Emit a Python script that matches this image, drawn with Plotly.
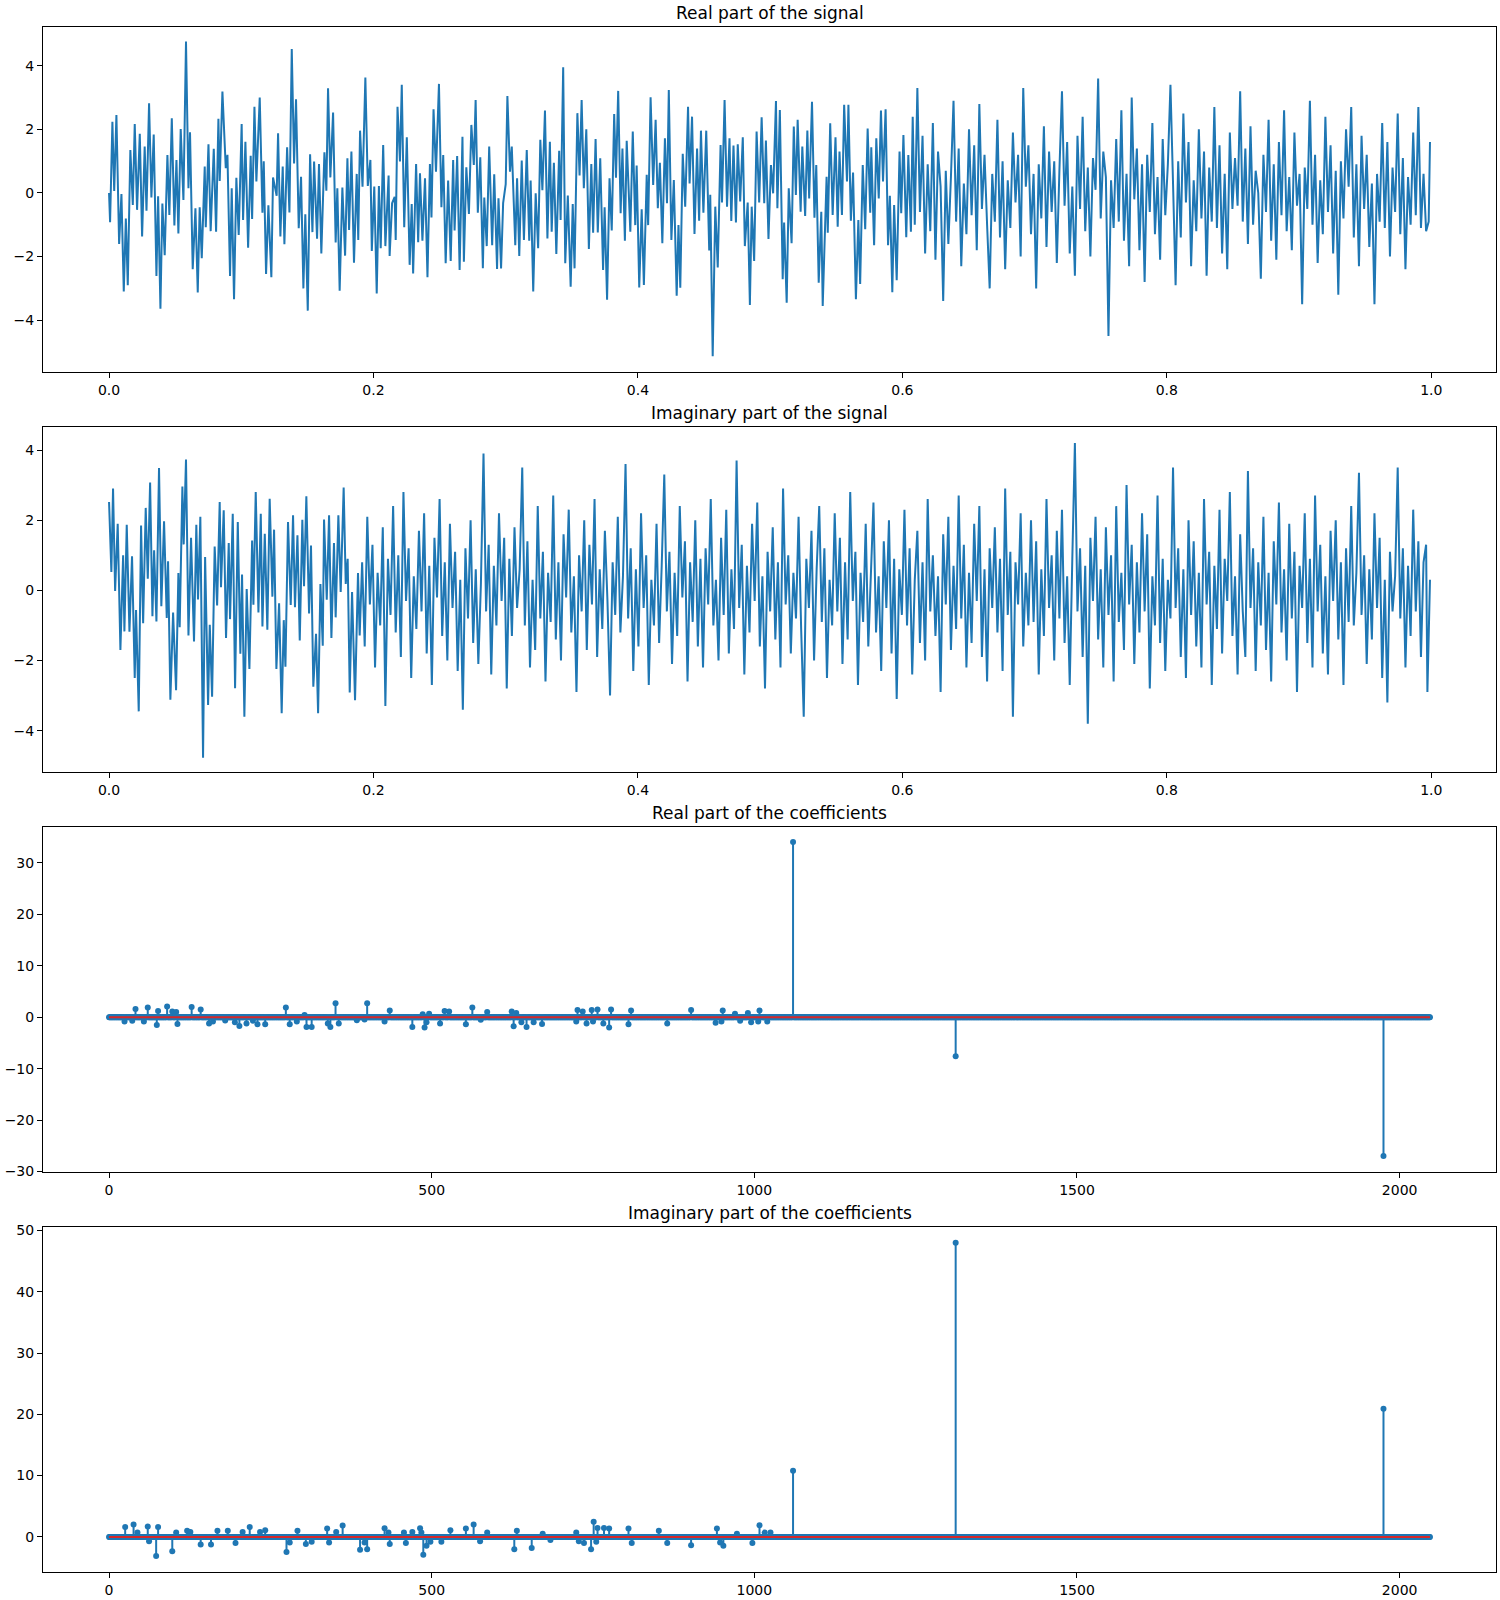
import numpy as np
import plotly.graph_objects as go

# ---------------- data ----------------
N_SIG = 1024
N_COEF = 2048

# Real part of the signal: (sample index, value) pairs of the visible turning points
re_sig_read = [
(0,0.0),(0.8,-0.92),(2.6,2.24),(4,0.06),(5.7,2.45),(7.8,-1.6),(9.6,-0.03),(11.4,-3.1),(13,-0.8),(14.5,-2.9),
(16.5,1.35),(18.4,-0.38),(19.9,2.17),(21.7,-0.53),(23.8,1.86),(25.6,-1.37),(27.6,1.46),(29,-0.56),(31,2.82),(32.8,-0.14),
(34.6,1.84),(36.7,-2.61),(38,-0.1),(39.8,-3.64),(41.3,-0.33),(43.1,-1.96),(45.2,1.19),(46.7,-0.69),(48.6,2.35),(50.6,-1.02),
(52.2,1.04),(53.7,-1.27),(55.5,2.01),(57.6,-0.22),(59.6,4.76),(61.5,0.15),(62.7,1.91),(64.8,-2.4),(66.9,-0.48),(68.7,-3.13),
(70.2,-0.45),(71.8,-2.05),(74.1,0.83),(74.9,-1.08),(77,1.53),(78.7,-1.2),(81.1,1.39),(82.9,-1.22),(84.7,2.33),(85.7,0.38),
(87.8,3.19),(90.4,0.78),(91.7,1.2),(93.7,-2.61),(95,0.15),(96.8,-3.34),(98.6,0.48),(100.4,-1.32),(102.7,2.17),(103.8,-0.85),
(105.6,1.61),(107.7,-1.72),(109.7,1.17),(110.8,-0.82),(112.6,2.71),(114.1,0.36),(116.7,3.0),(118.8,-0.62),(119.8,1.0),(121.6,-2.55),
(123.4,-0.39),(125.7,-2.65),(127,0.49),(129.8,-0.09),(130.9,1.88),(132.7,-1.37),(134.5,0.83),(135.8,-1.61),(137.9,1.44),(139.7,-0.61),
(141.5,4.53),(143.3,0.93),(144.8,2.95),(146.9,-1.11),(148.7,0.51),(150.5,-3.0),(152,-0.67),(153.9,-3.7),(155.7,1.22),(157.5,-1.23),
(158.8,0.99),(161.1,-1.44),(162.6,0.91),(164.4,-1.9),(166.8,1.28),(168.3,0.07),(169.6,3.29),(171.4,0.49),(173.5,2.53),(175.5,-1.56),
(176.8,0.15),(178.6,-3.07),(180.7,0.17),(182.8,-1.97),(184.6,1.09),(185.9,-1.16),(187.7,1.3),(189.7,-2.19),(191.8,0.6),(193,-1.48),
(194.4,1.96),(196.3,0.2),(198.5,3.63),(200.4,0.22),(202.4,1.04),(203.5,-1.82),(205.4,0.2),(207.3,-3.16),(209,0.22),(210.4,-1.74),
(212.3,1.51),(214,-1.67),(216.5,0.55),(217.3,-1.98),(219.2,-0.32),(221.2,-0.12),(222,-1.48),(223.4,2.71),(225.3,0.99),(226.7,3.4),
(228.6,-1.08),(230.6,1.75),(232.8,-2.26),(234.4,-0.35),(235.5,-2.53),(237.8,0.91),(239.4,-1.55),(240.8,0.62),(242.7,-1.5),(244.7,0.46),
(246.6,-2.65),(248.5,0.91),(249.7,-0.77),(251.3,2.63),(253.2,0.67),(255.5,3.43),(257.4,-0.45),(258.8,1.19),(260.7,-2.21),(262.6,0.39),
(264.6,-2.14),(266.5,1.04),(267.6,-1.18),(269.6,1.16),(271.5,-2.42),(273.7,1.77),(274.8,-2.16),(276.7,0.81),(278.7,-0.66),(280.6,2.14),
(282.5,0.88),(283.9,2.92),(285.6,-0.62),(287.5,1.12),(289.5,-2.37),(290.6,-0.14),(292.5,-1.67),(294.4,1.46),(296.7,-1.64),(298.3,0.59),
(300.5,-2.39),(301.6,-0.17),(303.6,-2.37),(305.2,-0.32),(307.2,0.28),(308.5,3.05),(310.5,0.67),(311.9,1.46),(314.6,-1.64),(316,0.46),
(317.7,-1.98),(319.6,1.02),(321.3,-1.48),(323.5,1.35),(325.4,-1.5),(326.5,0.39),(328.5,-3.1),(330.4,-0.01),(332.3,-1.74),(334,1.67),
(335.6,0.09),(337.6,2.59),(339.5,-1.43),(341.4,1.61),(342.8,-1.22),(344.5,0.95),(346.4,-1.92),(348.6,1.33),(349.7,-0.85),(351.7,3.95),
(353.3,-2.21),(355.3,-0.08),(357.5,-2.95),(359.1,-0.35),(360.5,-2.37),(362.7,2.51),(364.4,0.55),(366,2.92),(367.7,0.15),(369.6,2.0),
(371.6,-1.76),(373.5,0.91),(374.9,-1.25),(376.8,1.7),(378.5,-1.24),(380.4,1.09),(382.6,-2.42),(383.8,-0.45),(385.7,-3.36),(387.6,0.46),
(389.3,-1.18),(391.2,2.48),(392.6,0.48),(394.3,3.21),(396.2,-0.64),(397.6,1.4),(399.5,-1.5),(400.9,1.64),(403.7,-1.22),(405.6,1.93),
(407.5,-1.01),(408.6,0.86),(410.6,-2.97),(412.5,-0.51),(414.2,-2.89),(416.4,0.57),(417.5,-1.01),(419.4,3.01),(421.4,0.25),(423.3,2.3),
(425,-0.48),(426.6,0.95),(428.5,-1.58),(430.5,1.72),(432.1,-0.32),(433.5,3.24),(435.5,-1.48),(437.4,0.41),(439.6,-3.23),(441,-1.01),
(442.4,-2.98),(444.3,1.23),(446.2,-0.43),(448.4,2.71),(449.6,0.3),(451.5,2.4),(453.4,-1.29),(455.4,1.4),(457,-0.87),(458.4,1.96),
(460.3,-0.62),(462.5,1.96),(464.8,-1.81),(465.6,-0.06),(467.5,-5.13),(469.5,-0.43),(471.4,-2.34),(473.6,1.51),(474.7,-0.3),(476.7,2.92),
(478.6,-0.43),(480.5,1.72),(481.9,-0.88),(483.6,1.49),(485.5,-0.93),(486.9,1.53),(488.8,-0.27),(490.8,1.75),(492.4,-1.67),(494.6,-0.3),
(496.3,-3.52),(497.7,-0.43),(499.6,-2.14),(501.5,1.93),(503.5,-0.3),(505.4,2.38),(507.4,-0.32),(508.7,1.65),(510.7,-1.45),(512.6,0.88),
(514.3,-0.01),(516.5,2.89),(517.6,-0.48),(519.5,2.61),(521.7,-2.71),(522.8,-0.93),(524.8,-3.45),(526.4,0.15),(528.6,-1.58),(530.3,2.09),
(531.9,-0.06),(533.3,2.3),(535.6,-0.59),(536.9,1.46),(539.1,-0.72),(540.8,1.96),(542.2,-0.17),(544.4,2.87),(546.3,-0.78),(547.7,0.88),
(549.6,-2.82),(551.6,-0.59),(552.7,-3.55),(555.7,0.51),(556.6,-1.25),(558.5,2.19),(560.4,-0.69),(562.6,1.75),(564.3,-1.06),(565.7,1.3),
(567.6,-0.69),(569.3,2.77),(571.5,0.36),(572.6,2.77),(574.5,-0.87),(576.2,0.64),(578.4,-3.34),(580.3,-0.85),(581.7,-2.86),(583.7,0.88),
(585.6,-1.14),(587.5,2.03),(589.5,-0.62),(590.3,1.44),(592.5,-1.64),(594.2,1.72),(596.1,-0.17),(597.8,2.59),(599.4,0.36),(601.4,2.63),
(603.3,-1.64),(604.7,-0.09),(606.6,-3.12),(608,-0.38),(610,-2.74),(612.2,1.3),(613.5,-0.64),(615.2,1.82),(617.4,-1.39),(619,1.19),
(621,-1.22),(622.4,2.4),(624,-1.0),
]
# remaining turning points of the real part, every 2 samples from sample 626
re_sig_tail_start = 626
re_sig_tail = [
3.3,-0.6,1.8,-1.9,0.9,-1.2,2.2,-2.1,1.3,0.2,-3.4,0.7,-1.6,0.5,2.9,-0.9,1.4,-2.3,0.3,-1.3,
2.0,-0.7,1.5,-1.8,2.8,-0.5,1.2,-1.0,-3.0,0.6,-0.9,2.3,-1.4,1.0,-2.4,0.4,-1.1,1.9,-0.3,1.2,
-2.0,3.3,0.2,1.5,-1.3,0.6,-3.0,0.9,-0.8,2.1,-1.7,1.3,-0.6,1.0,-2.2,0.7,3.2,-0.4,1.6,-1.9,
0.2,-2.6,1.8,-0.5,2.4,-1.2,0.8,-2.0,1.1,0.1,3.6,-0.8,1.3,0.5,-4.5,0.4,-1.1,1.7,-0.9,2.6,
-1.5,0.6,-2.3,3.0,-0.2,1.4,-1.8,0.9,-2.8,1.2,-0.6,2.2,-1.3,0.5,-2.1,1.7,-0.7,0.9,3.4,0.3,
-2.9,1.0,-1.4,2.5,-0.3,1.6,-2.3,0.4,-1.2,2.0,-0.8,1.3,-2.6,0.8,-0.9,2.7,-1.1,1.5,-1.9,0.6,
-2.4,1.9,-0.5,1.1,-0.4,3.2,-0.9,1.4,-1.6,2.1,-1.0,0.7,0.0,-2.7,1.2,-0.6,2.3,-1.5,0.9,-2.1,
1.6,-0.7,2.6,-1.2,0.5,-1.8,1.9,-0.4,0.6,-3.5,0.8,-0.5,2.9,-1.0,1.2,-2.2,0.4,-1.3,2.4,-0.6,
1.5,-1.9,0.7,-3.2,1.0,-0.8,2.0,0.2,2.7,-1.4,0.9,-2.3,1.8,-0.5,1.2,-1.7,0.3,-3.5,0.6,-0.9,
2.2,-1.1,1.6,-2.0,0.8,-0.6,2.5,-1.3,1.1,-2.4,0.5,-1.0,1.9,-0.7,2.7,-1.1,0.6,-1.2,-0.9,
]
re_sig_end = (1023, 1.6)

# Imaginary part of the signal
im_sig_read = [
(0,2.52),(1.8,0.52),(3.1,2.9),(4.7,-0.02),(6.7,1.9),(8.8,-1.7),(10.9,1.0),(11.9,-1.17),(13.7,1.87),(15.8,-1.18),
(17.8,0.97),(19.9,-2.5),(20.9,-0.56),(23,-3.45),(24.8,1.85),(26.4,-0.94),(28.4,2.35),(30,0.33),(31.8,3.07),(33.6,-0.74),
(34.9,1.14),(36.7,-0.89),(38.7,3.49),(40.5,-0.45),(42.6,1.97),(44.7,-0.79),(45.7,0.83),(47.5,-3.12),(49.6,-0.63),(51.9,-2.85),
(53.7,0.49),(54.7,-1.05),(56.8,2.96),(57.8,1.31),(59.6,3.73),(61.5,-1.29),(63.5,1.5),(65.8,-1.46),(67.6,1.87),(68.9,-0.26),
(70.7,2.1),(72.8,-4.77),(74.4,0.95),(76.7,-3.27),(78,-0.98),(79.8,-3.03),(81.8,1.25),(83.7,-0.43),(85.7,2.52),(86.7,0.09),
(88.8,2.28),(90.6,-1.36),(92.7,1.35),(93.7,-0.82),(95.8,2.18),(97.6,-2.79),(99.7,1.95),(101.7,-1.81),(103,0.45),(104.8,-3.6),
(106.6,0.04),(108.7,-2.24),(110.8,1.42),(111.8,-0.41),(113.6,2.8),(115.7,-0.63),(117.5,2.18),(118.8,-1.03),(120.6,1.61),(122.6,-1.12),
(124.4,2.61),(126.5,-0.18),(127.8,1.73),(129.6,-2.24),(131.7,-0.37),(133.7,-3.5),(135.3,-0.85),(136.6,-2.18),(138.6,1.95),(140.7,-0.42),
(142.5,2.14),(144,-0.48),(145.9,1.57),(147.7,-1.43),(149.7,2.01),(151,0.12),(152.8,2.68),(154.9,-0.66),(156.4,1.28),(158.2,-2.75),
(160.3,-1.24),(161.9,-3.5),(163.7,0.18),(165.5,-1.58),(166.5,2.02),(168.6,-0.27),(170.4,2.14),(172.2,-1.36),(174.2,1.35),(175.5,-0.77),
(177.6,2.14),(179.4,-0.05),(181.7,2.93),(183.3,0.18),(184.8,0.9),(186.4,-2.91),(188.2,-0.05),(190.5,-3.13),(192.8,0.49),(194.1,-1.29),
]
im_sig_tail_start = 196
im_sig_tail = [
0.8,-1.6,2.1,-0.4,1.3,-2.2,0.5,-1.0,1.8,-3.3,
0.9,-0.7,2.4,-1.2,1.0,-1.9,2.8,-0.3,1.2,-2.5,
0.4,-1.1,1.7,-0.6,2.2,-1.8,0.7,-2.7,1.5,-0.2,
2.6,-1.3,0.8,-2.0,1.9,-0.5,1.1,-2.3,0.3,-3.4,
1.2,-0.8,2.0,-1.5,0.6,-2.1,0.2,3.9,-0.6,1.3,
-2.4,0.7,-1.0,2.2,-0.3,1.5,-2.8,0.9,-1.3,1.8,
-0.5,0.6,3.5,-1.0,1.4,-2.2,0.3,-1.7,2.4,-0.8,
1.1,-2.6,0.5,-0.9,2.7,-1.4,0.8,-2.0,1.6,-0.2,
2.3,-1.2,0.4,-2.9,1.0,-0.6,2.0,-1.7,1.3,-0.4,
2.6,-1.9,0.6,-1.1,1.7,-0.3,-3.0,0.8,-0.7,2.1,
-1.2,0.4,3.6,-0.8,1.2,-2.3,0.6,-1.6,2.2,-0.5,
1.0,-2.7,0.3,-1.0,1.9,-1.5,0.7,3.3,-0.6,1.1,
-2.1,0.5,-1.3,2.4,-0.2,1.4,-2.6,0.8,-0.9,2.0,
-1.6,0.9,-2.2,1.2,-0.4,2.6,-1.0,0.3,-2.0,1.5,
-0.7,2.3,-1.8,0.6,-1.1,3.7,-0.5,1.3,-2.4,0.7,
-1.2,1.9,-0.3,2.5,-1.6,0.4,-2.8,1.1,-0.6,1.8,
-1.4,0.8,-2.2,2.9,-0.4,1.0,-1.8,0.5,-0.8,2.1,
-1.1,-3.6,0.9,-0.5,1.7,-2.0,0.6,2.4,-0.9,1.2,
-2.5,0.3,-1.0,2.2,-0.6,1.5,-2.1,0.8,-1.4,2.8,
-0.3,1.1,-2.7,0.5,-0.9,1.9,-1.6,0.7,2.5,-1.2,
0.4,-2.3,1.4,-0.5,2.0,-1.8,0.9,-3.1,0.6,-0.7,
2.3,-1.0,1.2,-2.4,0.3,1.7,-1.5,0.8,-2.0,2.6,
-0.6,1.0,-1.3,0.4,-2.9,1.6,-0.4,2.1,-1.7,0.7,
-1.1,2.7,-0.8,1.3,-2.2,0.5,-1.5,1.9,-0.3,2.4,
-1.9,0.6,-2.6,1.2,-0.5,1.8,-1.2,0.9,-2.3,2.9,
-0.7,1.1,-3.6,0.8,-0.4,2.2,-1.6,0.5,-1.0,2.0,
-0.9,1.4,-2.4,0.6,-1.3,2.6,-0.5,1.0,-2.0,1.7,
-0.8,2.3,-1.5,0.4,-2.7,0.9,4.2,-0.6,1.2,-1.9,
0.7,-3.8,1.5,-0.3,2.1,-1.4,0.6,-2.2,1.8,-0.7,
1.0,-2.6,2.4,-0.9,0.5,-1.7,3.0,-0.4,1.3,-2.1,
0.8,-1.2,2.2,-0.6,1.6,-2.8,0.4,-1.0,2.7,-1.5,
0.9,-2.3,0.3,-0.8,3.5,-0.5,1.2,-1.9,0.6,-2.5,
2.0,-0.7,1.4,-1.6,0.5,-2.2,2.6,-0.4,1.1,-2.7,
0.7,-1.1,2.3,-1.8,0.9,-0.3,2.8,-1.3,0.4,-2.4,
1.6,-0.6,-1.9,3.4,-0.5,1.2,-2.3,0.8,-1.0,2.1,
-1.7,0.5,-2.6,1.4,-0.4,2.5,-1.2,0.6,-2.0,1.9,
-0.8,1.1,-2.9,0.7,-0.5,2.2,-1.5,0.9,-2.2,2.7,
-0.6,1.3,-1.8,0.4,-2.4,1.7,-0.3,2.0,-1.4,0.8,
-2.7,1.2,-0.9,2.4,-1.0,0.5,3.35,-0.7,1.0,-2.1,
0.6,-1.4,2.2,-0.5,1.5,-2.5,0.3,-3.2,1.1,-0.6,
0.4,3.5,-0.8,1.2,-2.2,0.7,-1.3,2.3,-0.6,1.4,
-1.9,0.8,1.3,
]
im_sig_end = [(1021, -2.9), (1023, 0.3)]

# Coefficients (non-zero entries; all others are 0)
coef_re_idx = [24,36,41,54,60,74,76,90,98,104,106,128,142,155,161,180,195,202,213,223,
               230,242,274,280,291,303,306,314,339,343,351,356,384,396,400,427,435,470,486,489,
               492,496,513,520,527,553,563,576,586,624,627,631,639,647,658,671,724,726,734,740,
               748,750,757,766,775,778,805,809,865,902,940,949,951,970,978,990,995,1006,1008,1020,
               1060,1312,1975]
coef_re_val = [-0.85,-0.7,1.6,-0.85,1.9,-1.5,1.2,2.1,1.1,1.0,-1.3,2.0,1.5,-1.2,-0.85,-0.65,-1.0,-1.7,-1.2,-0.7,
               -1.35,-1.35,1.9,-1.35,-0.85,0.45,-1.9,-1.9,-1.2,-1.9,2.7,-1.2,-0.6,-0.45,2.7,-0.85,1.3,-1.9,0.6,-2.0,
               -1.0,0.65,-1.2,1.2,1.1,-1.35,1.9,-0.5,1.0,1.1,-1.75,0.8,-1.0,-1.9,-1.0,-1.3,-0.85,1.4,1.1,-1.2,
               1.4,-0.85,1.5,-1.2,-2.0,1.5,-1.35,1.3,-1.2,1.4,-1.1,-0.85,1.3,0.65,-0.7,0.8,-1.0,-0.85,1.3,-0.85,
               34.1,-7.6,-27.0]

coef_im_idx = [25,38,44,60,62,73,76,98,104,121,126,142,158,168,184,196,207,218,234,242,
               275,280,292,305,314,338,341,352,362,389,396,400,427,433,435,457,460,470,482,484,
               487,492,498,515,529,553,565,575,586,628,632,655,672,684,724,728,736,747,751,755,
               757,767,775,805,810,852,865,902,942,947,952,973,997,1008,1016,1025,
               1060,1312,1975]
coef_im_val = [1.6,2.0,0.7,1.7,-0.7,-3.1,1.6,-2.35,0.7,1.0,0.8,-1.25,-1.25,1.0,1.0,-1.0,0.8,1.6,0.8,1.1,
               -2.45,-0.9,1.0,-1.15,-0.8,1.35,-0.9,0.8,1.85,-2.1,-0.9,-2.0,1.4,0.7,-1.15,0.7,-1.0,0.8,1.4,0.7,
               -2.9,-1.45,-0.8,-0.8,1.1,1.35,2.0,-0.7,0.7,-2.0,1.0,-1.8,0.5,-0.5,0.7,-0.7,-1.0,-2.0,2.45,-0.8,
               1.45,1.45,1.35,1.35,-1.0,1.0,-1.0,-1.35,1.35,-0.9,-1.45,0.5,-1.0,1.9,0.7,0.7,
               10.8,48.0,20.9]

titles = ["Real part of the signal", "Imaginary part of the signal",
          "Real part of the coefficients", "Imaginary part of the coefficients"]

sig_ticks = [0.0, 0.2, 0.4, 0.6, 0.8, 1.0]
sig_ticktext = ["0.0", "0.2", "0.4", "0.6", "0.8", "1.0"]
sig_yticks = [-4, -2, 0, 2, 4]
coef_xticks = [0, 500, 1000, 1500, 2000]
coef_re_yticks = [-30, -20, -10, 0, 10, 20, 30]
coef_im_yticks = [0, 10, 20, 30, 40, 50]

# ---------------- build series ----------------
def build_signal(read_pts, tail_start, tail_vals, end_pts):
    idx = [p[0] for p in read_pts] + list(tail_start + 2 * np.arange(len(tail_vals))) + [p[0] for p in end_pts]
    val = [p[1] for p in read_pts] + list(tail_vals) + [p[1] for p in end_pts]
    return np.array(idx, dtype=float) / N_SIG, np.array(val, dtype=float)

re_t, re_v = build_signal(re_sig_read, re_sig_tail_start, re_sig_tail, [re_sig_end])
im_t, im_v = build_signal(im_sig_read, im_sig_tail_start, im_sig_tail, im_sig_end)

def dense(idx, val):
    a = np.zeros(N_COEF)
    a[np.array(idx)] = np.array(val)
    return a

coef_re = dense(coef_re_idx, coef_re_val)
coef_im = dense(coef_im_idx, coef_im_val)

BLUE = "#1f77b4"
RED = "#d62728"
FONT = "DejaVu Sans"

fig = go.Figure()

def minus(v):
    return f"{v:g}".replace("-", "\u2212")

# geometry (pixels in the 1500x1600 figure)
W, H = 1500, 1600
M_L, M_R, M_T, M_B = 43, 4, 27, 28
PH = H - M_T - M_B
tops = [27.3, 427.0, 827.0, 1227.0]
bots = [371.7, 771.7, 1171.7, 1572.0]
ydoms = [[1 - (b - M_T) / PH, min(1.0, 1 - (t - M_T) / PH)] for t, b in zip(tops, bots)]
xdom = [0, 1]

# panel 1 & 2 : signals
fig.add_trace(go.Scatter(x=re_t, y=re_v, mode="lines", line=dict(color=BLUE, width=2),
                         xaxis="x", yaxis="y", showlegend=False))
fig.add_trace(go.Scatter(x=im_t, y=im_v, mode="lines", line=dict(color=BLUE, width=2),
                         xaxis="x2", yaxis="y2", showlegend=False))

# stem plots
def add_stem(coef, xa, ya):
    sx, sy = [], []
    for i, v in enumerate(coef):
        if v != 0:
            sx += [i, i, None]
            sy += [0, v, None]
    fig.add_trace(go.Scatter(x=sx, y=sy, mode="lines", line=dict(color=BLUE, width=2),
                             xaxis=xa, yaxis=ya, showlegend=False))
    fig.add_trace(go.Scatter(x=np.arange(N_COEF), y=coef, mode="markers",
                             marker=dict(color=BLUE, size=6, line=dict(width=0)),
                             xaxis=xa, yaxis=ya, showlegend=False))
    fig.add_trace(go.Scatter(x=[0, N_COEF - 1], y=[0, 0], mode="lines",
                             line=dict(color=RED, width=2),
                             xaxis=xa, yaxis=ya, showlegend=False))

add_stem(coef_re, "x3", "y3")
add_stem(coef_im, "x4", "y4")

axis_common = dict(showline=True, mirror=True, linecolor="black", linewidth=1,
                   ticks="outside", ticklen=5, tickwidth=1, tickcolor="black",
                   showgrid=False, zeroline=False, automargin=False,
                   tickfont=dict(family=FONT, size=14, color="black"))

sig_x = dict(range=[-0.04995, 1.04895], tickvals=sig_ticks, ticktext=sig_ticktext)
coef_x = dict(range=[-102.35, 2149.35], tickvals=coef_xticks, ticktext=[str(v) for v in coef_xticks])

layout = dict(
    width=W, height=H,
    margin=dict(l=M_L, r=M_R, t=M_T, b=M_B, autoexpand=False),
    paper_bgcolor="white", plot_bgcolor="white",
    showlegend=False,
    xaxis=dict(domain=xdom, anchor="y", **sig_x, **axis_common),
    yaxis=dict(domain=ydoms[0], anchor="x", range=[-5.62, 5.21],
               tickvals=sig_yticks, ticktext=[minus(v) for v in sig_yticks], **axis_common),
    xaxis2=dict(domain=xdom, anchor="y2", **sig_x, **axis_common),
    yaxis2=dict(domain=ydoms[1], anchor="x2", range=[-5.17, 4.656],
                tickvals=sig_yticks, ticktext=[minus(v) for v in sig_yticks], **axis_common),
    xaxis3=dict(domain=xdom, anchor="y3", **coef_x, **axis_common),
    yaxis3=dict(domain=ydoms[2], anchor="x3", range=[-30.05, 37.0],
                tickvals=coef_re_yticks, ticktext=[minus(v) for v in coef_re_yticks], **axis_common),
    xaxis4=dict(domain=xdom, anchor="y4", **coef_x, **axis_common),
    yaxis4=dict(domain=ydoms[3], anchor="x4", range=[-5.73, 50.56],
                tickvals=coef_im_yticks, ticktext=[minus(v) for v in coef_im_yticks], **axis_common),
)
fig.update_layout(**layout)

annotations = []
for title, yd in zip(titles, ydoms):
    annotations.append(dict(text=title, x=0.5, y=yd[1], xref="paper", yref="paper",
                            xanchor="center", yanchor="bottom", yshift=2, showarrow=False,
                            font=dict(family=FONT, size=17, color="black")))
fig.update_layout(annotations=annotations)

fig.write_html("out.html")
